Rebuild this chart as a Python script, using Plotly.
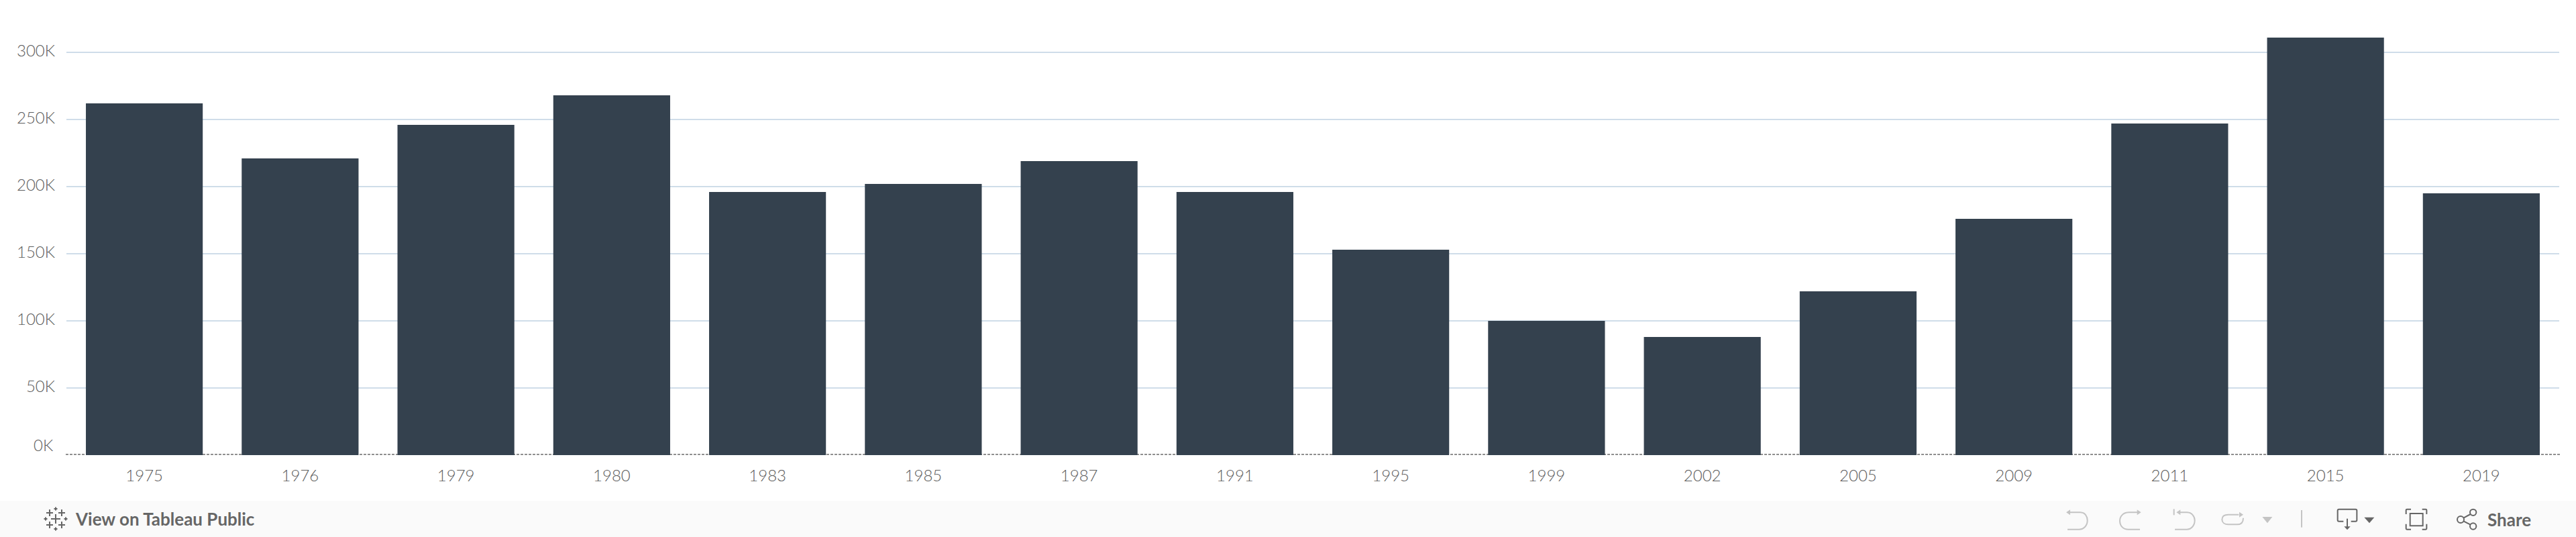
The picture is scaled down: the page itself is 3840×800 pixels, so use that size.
import re
import plotly.graph_objects as go

# ---- data (thousands) ----
years = ["1975", "1976", "1979", "1980", "1983", "1985", "1987", "1991",
         "1995", "1999", "2002", "2005", "2009", "2011", "2015", "2019"]
values_k = [262, 221, 246, 268, 196, 202, 219, 196,
            153, 100, 88, 122, 176, 247, 311, 195]
y_ticks = [50, 100, 150, 200, 250, 300]
y_tick_labels = ["50K", "100K", "150K", "200K", "250K", "300K"]

BAR = "#34414e"
GRID = "#cfdde9"
TEXT = "#5c5c5c"
ICON_LIGHT = "#c4c4c4"
ICON_DARK = "#666666"
FOOTER = "#fafafa"
W, H = 3840, 800
L, R, T, B = 99, 25, 0, 122
PW, PH = W - L - R, H - T - B


def px(x):
    return (x - L) / PW


def py(y):
    return (H - B - y) / PH


def path(d, ox, oy, color, width=2, fill=False):
    """Chrome icon: d is written in 3x zoom coordinates around origin (ox, oy)."""
    i = 0

    def rep(m):
        nonlocal i
        v = float(m.group(0)) / 3
        r = px(ox + v) if i % 2 == 0 else py(oy + v)
        i += 1
        return f"{r:.6f}"

    d2 = re.sub(r"-?\d+\.?\d*", rep, d)
    return dict(type="path", xref="paper", yref="paper", path=d2, layer="above",
                line=dict(color=color, width=0 if fill else width),
                fillcolor=color if fill else "rgba(0,0,0,0)")


def circle(cx, cy, r, ox, oy, color):
    return dict(type="circle", xref="paper", yref="paper", layer="above",
                x0=px(ox + (cx - r) / 3), x1=px(ox + (cx + r) / 3),
                y0=py(oy + (cy - r) / 3), y1=py(oy + (cy + r) / 3),
                line=dict(color=color, width=2))


def cross(cx, cy, half, width=2):
    return [
        dict(type="line", xref="paper", yref="paper", layer="above",
             x0=px(cx - half), x1=px(cx + half), y0=py(cy), y1=py(cy),
             line=dict(color=ICON_DARK, width=width)),
        dict(type="line", xref="paper", yref="paper", layer="above",
             x0=px(cx), x1=px(cx), y0=py(cy - half), y1=py(cy + half),
             line=dict(color=ICON_DARK, width=width)),
    ]


shapes = [
    dict(type="rect", xref="paper", yref="paper", layer="below",
         x0=px(0), x1=px(W), y0=py(746), y1=py(800), fillcolor=FOOTER, line_width=0),
    dict(type="line", xref="paper", yref="y", layer="below",
         x0=px(98), x1=px(3816), y0=0.5, y1=0.5,
         line=dict(color="#222222", width=1, dash="4px,2px")),
]

# Tableau logo
logo_x, logo_y = 83, 773
shapes += cross(logo_x, logo_y, 7)
for dx, dy in [(-9, -9), (9, -9), (-9, 9), (9, 9)]:
    shapes += cross(logo_x + dx, logo_y + dy, 5)
for dx, dy in [(0, -15), (0, 15), (-15, 0), (15, 0)]:
    shapes += cross(logo_x + dx, logo_y + dy, 2.5)

# right-hand toolbar (light)
ox, oy = 3060, 750
for d in [
    "M78 40 L122 40 C145 40 155 58 155 76 C155 98 140 116 118 116 L66 116",
    "M378 40 L340 40 C315 40 300 58 300 78 C300 100 315 116 338 116 L390 116",
    "M542 25 L542 52",
    "M570 40 L600 40 C622 40 635 58 635 76 C635 98 620 116 600 116 L546 116",
    "M832 50 L785 50 C765 50 757 60 757 72 C757 85 768 94 785 94 L825 94 C842 94 852 85 852 65",
    "M1113 30 L1113 107",
]:
    shapes.append(path(d, ox, oy, ICON_LIGHT))
for d in [
    "M60 40 L78 28 L78 52 Z",
    "M395 40 L377 28 L377 52 Z",
    "M553 40 L571 28 L571 52 Z",
    "M852 50 L834 38 L834 62 Z",
    "M937 60 L982 60 L960 88 Z",
]:
    shapes.append(path(d, ox, oy, ICON_LIGHT, fill=True))

# right-hand toolbar (dark)
ox, oy = 3460, 750
for d in [
    "M100 80 L80 80 Q74 80 74 74 L74 32 Q74 26 80 26 L154 26 Q160 26 160 32 L160 74 Q160 80 154 80 L134 80",
    "M117 68 L117 105",
    "M398 45 L455 45 L455 100 L398 100 Z",
    "M380 48 L380 30 Q380 26 384 26 L402 26",
    "M452 26 L468 26 Q472 26 472 30 L472 48",
    "M380 92 L380 112 Q380 116 384 116 L402 116",
    "M452 116 L468 116 Q472 116 472 112 L472 92",
    "M668 48 L637 65",
    "M637 79 L668 95",
]:
    shapes.append(path(d, ox, oy, ICON_DARK))
for d in ["M103 103 L131 103 L117 118 Z", "M193 62 L238 62 L216 88 Z"]:
    shapes.append(path(d, ox, oy, ICON_DARK, fill=True))
for c in [(680, 40, 14), (624, 72, 15), (680, 102, 14)]:
    shapes.append(circle(*c, ox, oy, ICON_DARK))

light = dict(family="Lato", size=24, color=TEXT, weight=300)
medium = dict(family="Lato", size=26, color=ICON_DARK, weight=700)

annotations = [
    dict(text="0K", xref="paper", yref="paper", x=px(82), y=py(662),
         xanchor="right", yanchor="middle", showarrow=False, font=light),
    dict(text="View on Tableau Public", xref="paper", yref="paper", x=px(110), y=py(773),
         xanchor="left", yanchor="middle", showarrow=False, font=medium),
    dict(text="Share", xref="paper", yref="paper", x=px(3706), y=py(774),
         xanchor="left", yanchor="middle", showarrow=False, font=medium),
]

fig = go.Figure(go.Bar(x=years, y=values_k, marker=dict(color=BAR, line_width=0),
                       hoverinfo="skip"))
fig.update_layout(
    width=W, height=H,
    margin=dict(l=L, r=R, t=T, b=B, pad=0),
    paper_bgcolor="#ffffff", plot_bgcolor="#ffffff",
    bargap=0.25, showlegend=False,
    shapes=shapes, annotations=annotations,
    xaxis=dict(type="category", categoryorder="array", categoryarray=years,
               range=[-0.5, 15.5], showgrid=False, zeroline=False, showline=False,
               ticks="", tickfont=light, ticklabelstandoff=14, fixedrange=True),
    yaxis=dict(range=[0, (H - B) / 2], tickmode="array", tickvals=y_ticks,
               ticktext=y_tick_labels, showgrid=True, gridcolor=GRID, gridwidth=2,
               zeroline=False, showline=False, ticks="", tickfont=light,
               ticklabelstandoff=16, ticklabelshift=-2, fixedrange=True),
)
fig.write_html("out.html", config=dict(displayModeBar=False),
               post_script="document.body.style.margin='0';document.body.style.overflow='hidden';")
